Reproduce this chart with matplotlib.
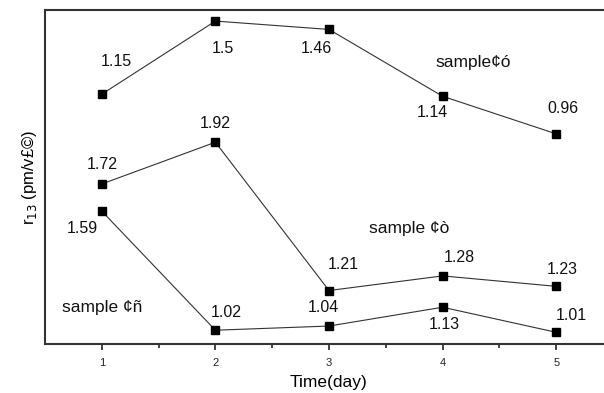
import matplotlib
matplotlib.use("Agg")
import matplotlib.pyplot as plt

plt.rcParams['font.family'] = ['Liberation Sans', 'DejaVu Sans']

days = [1, 2, 3, 4, 5]
sample_3 = [1.15, 1.50, 1.46, 1.14, 0.96]
sample_2 = [1.72, 1.92, 1.21, 1.28, 1.23]
sample_1 = [1.59, 1.02, 1.04, 1.13, 1.01]
tick_labels = ["1", "2", "3", "4", "5"]

# vertical shift used to stack the upper curve above the other two
shift_3 = 1.0

# label offsets (pixels) from each marker
off_3 = [(15, 33), (7, -27), (-13, -19), (-10, -16), (7, 25)]
off_2 = [(0, 19), (0, 19), (14, 26), (17, 18), (6, 17)]
off_1 = [(-19, -17), (11, 18), (-6, 19), (2, -17), (15, 17)]

fig = plt.figure(figsize=(6.04, 3.93), dpi=100)
ax = fig.add_axes([45 / 604, 49 / 393, 568 / 604, 334 / 393])

line_kw = dict(color='#333333', lw=0.8, marker='s', markersize=6,
               markerfacecolor='black', markeredgecolor='black')

y3 = [v + shift_3 for v in sample_3]
ax.plot(days, y3, **line_kw)
ax.plot(days, sample_2, **line_kw)
ax.plot(days, sample_1, **line_kw)

lbl_kw = dict(textcoords='offset pixels', ha='center', va='center',
              fontsize=11.5, color='#111111')
for x, y, v, o in zip(days, y3, sample_3, off_3):
    ax.annotate(f"{v:g}", (x, y), xytext=o, **lbl_kw)
for x, y, o in zip(days, sample_2, off_2):
    ax.annotate(f"{y:g}", (x, y), xytext=o, **lbl_kw)
for x, y, o in zip(days, sample_1, off_1):
    ax.annotate(f"{y:g}", (x, y), xytext=o, **lbl_kw)

name_kw = dict(ha='center', va='center', fontsize=12.5, color='#111111')
ax.text(4.27, 2.30, "sample¢ó", **name_kw)
ax.text(3.71, 1.508, "sample ¢ò", **name_kw)
ax.text(1.0, 1.13, "sample ¢ñ", **name_kw)

ax.set_xlim(0.5, 5.5)
ax.set_ylim(0.954, 2.553)
ax.set_xticks(days)
ax.set_xticklabels(tick_labels, fontsize=8)
ax.set_xticks([1.5, 2.5, 3.5, 4.5], minor=True)
ax.tick_params(axis='x', which='major', direction='out', length=4,
               width=1.2, pad=6, colors='#222222')
ax.tick_params(axis='x', which='minor', direction='out', length=3,
               width=1.2, colors='#222222')
ax.set_yticks([])

for s in ax.spines.values():
    s.set_linewidth(1.5)
    s.set_color('#333333')

ax.set_xlabel("Time(day)", fontsize=12.5, labelpad=5)
ax.set_ylabel(r"r$_{13}$ (pm/v£©)", fontsize=12, labelpad=4)

fig.savefig("out.png", dpi=100)
